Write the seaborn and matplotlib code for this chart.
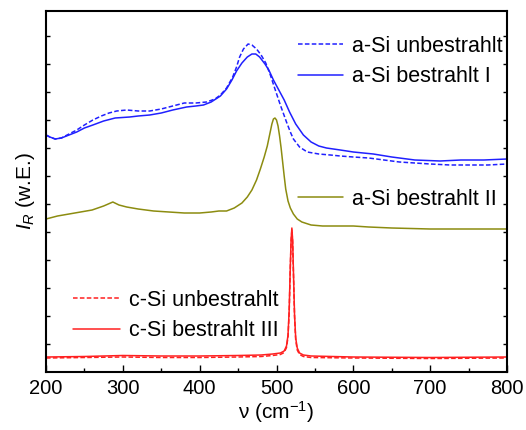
import numpy as np
import pandas as pd
import matplotlib
matplotlib.use("Agg")
import matplotlib.pyplot as plt
from matplotlib.lines import Line2D
import seaborn as sns

# ---- data (arbitrary units) ----
x_a_unb = [200, 205, 212, 220, 230, 240, 250, 261, 272, 282, 292, 305, 320, 335, 350, 365, 380, 395, 409, 420,
           427, 435, 443, 448, 452, 457, 463, 468, 474, 480, 486, 492, 498, 505, 513, 518, 522, 530, 540, 555,
           570, 583, 600, 620, 640, 660, 680, 700, 726, 750, 775, 800]
y_a_unb = [237, 235, 233, 234, 238, 242, 247, 252, 256, 259, 261, 262, 261, 261, 263, 266, 269, 269, 270, 273,
           277, 284, 295, 305, 315, 323, 328, 327, 323, 317, 309, 297, 283, 267, 250, 240, 233, 225, 220, 218,
           217, 216, 215, 214, 212, 210, 209, 208, 207, 207, 207, 208]

x_a_b1 = [200, 205, 212, 220, 230, 240, 250, 261, 275, 290, 309, 320, 335, 350, 365, 383, 395, 405, 415, 427,
          435, 442, 448, 455, 462, 468, 473, 478, 485, 490, 496, 503, 510, 517, 525, 535, 545, 555, 565, 583,
          600, 626, 650, 680, 713, 740, 770, 800]
y_a_b1 = [237, 235, 233, 234, 237, 240, 244, 247, 251, 254, 255, 256, 257, 259, 262, 265, 266, 267, 270, 276,
          283, 292, 301, 309, 315, 318, 318, 315, 308, 302, 292, 282, 272, 260, 248, 237, 230, 226, 224, 222,
          220, 218, 215, 212, 211, 212, 212, 213]

x_a_b2 = [200, 215, 230, 245, 260, 275, 287, 295, 305, 320, 340, 360, 380, 400, 415, 425, 435, 445, 455, 462,
          468, 474, 479, 484, 488, 491, 494, 496, 498, 500, 502, 504, 506, 508, 510, 512, 515, 518, 522, 527,
          533, 545, 560, 580, 600, 620, 650, 700, 750, 800]
y_a_b2 = [153, 156, 158, 160, 162, 166, 170, 167, 165, 163, 161, 160, 159, 159, 160, 161, 161, 164, 169, 175,
          182, 192, 203, 215, 226, 237, 248, 253, 254, 252, 246, 236, 224, 210, 196, 183, 171, 164, 158, 153,
          150, 147, 146, 146, 146, 145, 144, 143, 143, 143]

x_c = [200, 250, 300, 350, 400, 450, 480, 495, 505, 510, 513, 515, 516.5, 518, 519, 520, 521, 522, 523.5, 525,
       527, 530, 535, 545, 600, 700, 800]
y_c_unb = [14, 14.5, 15, 14.5, 14.5, 15, 15.5, 16.5, 17.5, 19.5, 24.5, 35, 60, 105, 130, 142, 130, 100, 55, 32,
           22, 17.5, 15.5, 14.5, 14, 13.5, 14]
y_c_b3 = [15, 15.5, 16.5, 16, 16, 16.5, 17, 18, 19, 21, 26, 37, 62, 107, 132, 144, 132, 102, 57, 34,
          24, 19, 17, 16, 15, 14.5, 15]

labels = ["a-Si unbestrahlt", "a-Si bestrahlt I", "a-Si bestrahlt II",
          "c-Si unbestrahlt", "c-Si bestrahlt III"]

frames = []
for lab, xs, ys in zip(labels, [x_a_unb, x_a_b1, x_a_b2, x_c, x_c],
                       [y_a_unb, y_a_b1, y_a_b2, y_c_unb, y_c_b3]):
    frames.append(pd.DataFrame({"nu": xs, "I": ys, "series": lab}))
df = pd.concat(frames, ignore_index=True)

colors = {"a-Si unbestrahlt": "#2020ff", "a-Si bestrahlt I": "#2020ff",
          "a-Si bestrahlt II": "#8c8c10",
          "c-Si unbestrahlt": "#ff2020", "c-Si bestrahlt III": "#ff2020"}
styles = {"a-Si unbestrahlt": (0, (3, 1.5)), "a-Si bestrahlt I": "-",
          "a-Si bestrahlt II": "-",
          "c-Si unbestrahlt": (0, (3, 1.5)), "c-Si bestrahlt III": "-"}

sns.set_style("ticks")
plt.rcParams["font.family"] = ["Liberation Sans", "DejaVu Sans"]
plt.rcParams["mathtext.fontset"] = "custom"
plt.rcParams["mathtext.rm"] = "Liberation Sans"
plt.rcParams["mathtext.it"] = "Liberation Sans:italic"
plt.rcParams["text.color"] = "black"
plt.rcParams["axes.labelcolor"] = "black"
plt.rcParams["xtick.color"] = "black"
plt.rcParams["ytick.color"] = "black"
plt.rcParams["axes.edgecolor"] = "black"

fig = plt.figure(figsize=(5.26, 4.30), dpi=100)
ax = fig.add_axes([46/526, 58/430, 461/526, 361/430])

for lab in labels:
    sub = df[df["series"] == lab]
    sns.lineplot(data=sub, x="nu", y="I", ax=ax, color=colors[lab],
                 linestyle=styles[lab], linewidth=1.1, estimator=None,
                 sort=False, legend=False)

ax.set_xlim(200, 800)
ax.set_ylim(0, 361)
ax.set_xticks(np.arange(200, 801, 100))
ax.set_xticks(np.arange(250, 800, 100), minor=True)
ax.set_yticks(np.arange(28, 350, 28))
ax.set_yticklabels([])
ax.tick_params(axis="x", which="major", direction="in", length=5, width=1, labelsize=14.5, pad=5)
ax.tick_params(axis="x", which="minor", direction="in", length=3, width=1)
ax.tick_params(axis="y", which="major", direction="in", length=3, width=1, left=True, right=True)
for s in ax.spines.values():
    s.set_linewidth(1.5)
    s.set_visible(True)

ax.set_xlabel("ν (cm$^{-1}$)", fontsize=15, labelpad=1)
ax.set_ylabel("$I_R$ (w.E.)", fontsize=15, labelpad=3)

def mk(lab):
    return Line2D([], [], color=colors[lab], linestyle=styles[lab], linewidth=1.1)

leg_kw = dict(frameon=False, fontsize=15.5, handlelength=2.1, handletextpad=0.42,
              labelspacing=0.42, borderpad=0, borderaxespad=0)
l1 = ax.legend([mk(labels[0]), mk(labels[1])], labels[:2],
               loc="upper left", bbox_to_anchor=(252/461, (372-36)/361), **leg_kw)
ax.add_artist(l1)
l2 = ax.legend([mk(labels[2])], [labels[2]],
               loc="upper left", bbox_to_anchor=(252/461, (372-189)/361), **leg_kw)
ax.add_artist(l2)
leg_kw3 = dict(leg_kw, handlelength=2.2)
l3 = ax.legend([mk(labels[3]), mk(labels[4])], labels[3:],
               loc="upper left", bbox_to_anchor=(27/461, (372-290)/361), **leg_kw3)

fig.savefig("out.png", dpi=100)
